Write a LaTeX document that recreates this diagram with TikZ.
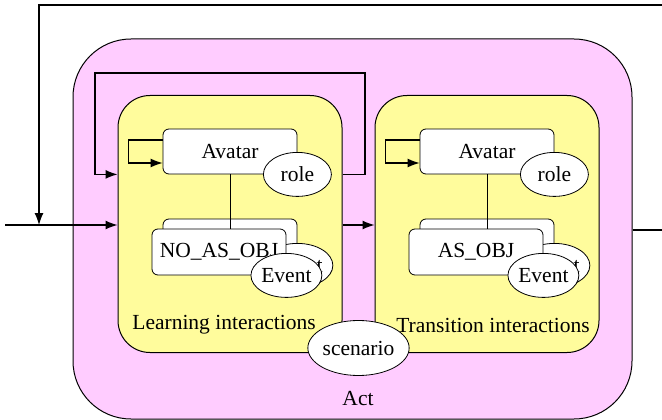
\documentclass[tikz,border=0pt]{standalone}
\usepackage{fontspec}
\setmainfont{Liberation Serif}
\usetikzlibrary{arrows.meta,shapes.geometric}
\tikzset{
  actbox/.style={draw, line width=1pt, fill=pinkfill, rounded corners=58pt, minimum width=559pt, minimum height=380pt},
  phasebox/.style={draw, line width=1pt, fill=yellowfill, rounded corners=32pt, minimum width=224pt, minimum height=257pt},
  objbox/.style={draw, line width=0.8pt, fill=white, rounded corners=6pt, minimum width=134pt, minimum height=46pt, inner sep=0pt},
  attr/.style={draw, ellipse, line width=0.8pt, fill=white, minimum width=68pt, minimum height=44pt, inner sep=0pt},
  link/.style={line width=1.2pt}
}
\definecolor{pinkfill}{HTML}{FFCCFF}
\definecolor{yellowfill}{HTML}{FFFC9C}
\begin{document}
\begin{tikzpicture}[x=1pt, y=-1pt, >={Latex[length=12pt,width=9pt]}, font=\fontsize{21.5}{25}\selectfont]
\useasboundingbox (0,0) rectangle (662,420);
% act and its two phases
\node[actbox] (act) at (352.5,229) {};
\node (actlbl) at (358,399) {Act};
\node[phasebox] (learn) at (230,224) {};
\node[phasebox] (trans) at (487,224) {};
\node (learnlbl) at (224,325) {Learning interactions};
\node (translbl) at (493,325) {Transition interactions};
% learning phase
\node[objbox, minimum height=45pt] (av1) at (230,151.5) {Avatar};
\node[attr] (role1) at (av1.south east) {role};
\node[objbox] (obj1b) at (230,242) {};
\node[attr] (ev1b) at (obj1b.south east) {Event};
\draw[line width=0.8pt] (av1.south) -- (av1.south |- 0,229);
\node[objbox] (obj1) at (219,252) {NO\_AS\_OBJ};
\node[attr] (ev1) at (obj1.south east) {Event};
\draw[->, link] ([yshift=11.5pt]av1.west) -- ++(-34,0) -- ++(0,23) -- ([yshift=-11.5pt]av1.west);
% transition phase
\node[objbox, minimum height=45pt] (av2) at (487,151.5) {Avatar};
\node[attr] (role2) at (av2.south east) {role};
\node[objbox] (obj2b) at (487,242) {};
\node[attr] (ev2b) at (obj2b.south east) {Event};
\draw[line width=0.8pt] (av2.south) -- (av2.south |- 0,229);
\node[objbox] (obj2) at (476,252) {AS\_OBJ};
\node[attr] (ev2) at (obj2.south east) {Event};
\draw[->, link] ([yshift=11.5pt]av2.west) -- ++(-34,0) -- ++(0,23) -- ([yshift=-11.5pt]av2.west);
\node[attr, minimum width=100pt, minimum height=55pt] (scen) at (358.5,348) {scenario};
% flows
\coordinate (in) at (5,225);
\coordinate (tl) at (39,5);
\coordinate (tr) at (662,5);
\coordinate (out) at (662,230);
\coordinate (fbr) at (365,73);
\coordinate (fbl) at (95,73);
\draw[->, link] (in) -- (learn.west |- in);
\draw[->, link] (tr) -- (tl) -- (tl |- in);
\draw[->, link] (learn.east |- in) -- (trans.west |- in);
\draw[link] (act.east |- out) -- (out);
\draw[->, link] (learn.east |- role1) -- (fbr |- role1) -- (fbr) -- (fbl) -- (fbl |- role1) -- (learn.west |- role1);
\end{tikzpicture}
\end{document}
